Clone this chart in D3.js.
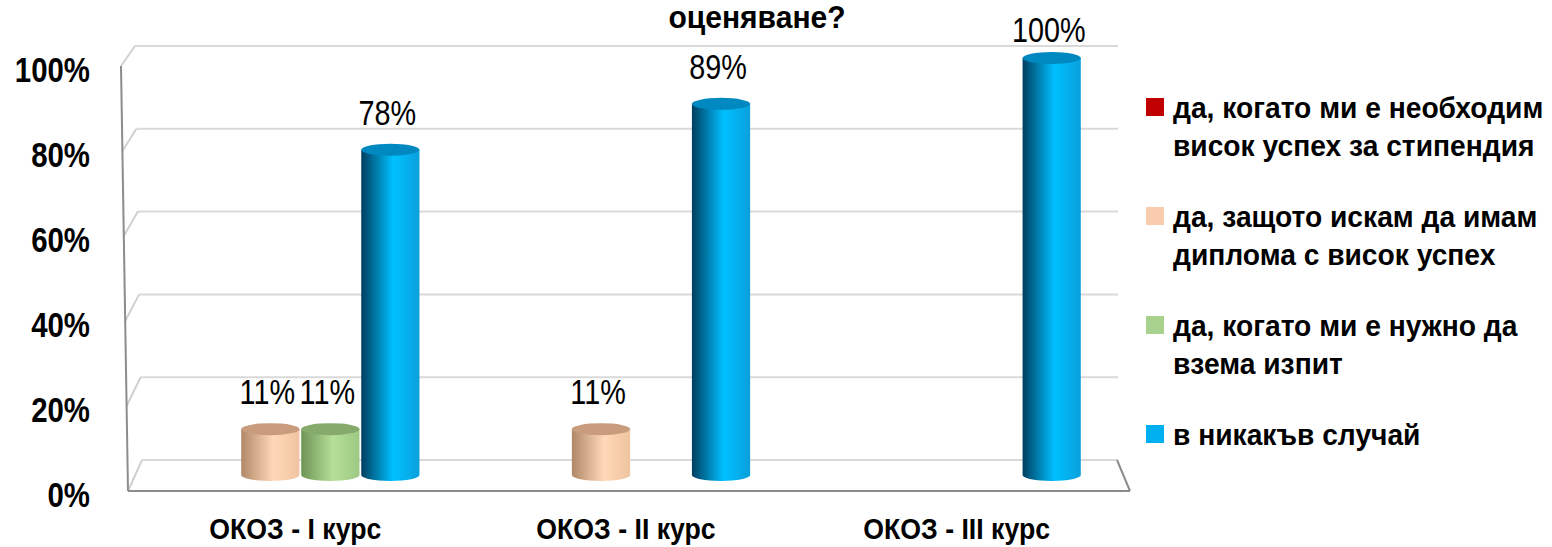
<!DOCTYPE html>
<html>
<head>
<meta charset="utf-8">
<script src="https://cdn.jsdelivr.net/npm/d3@7"></script>
<style>
  body { margin: 0; background: #fff; }
  svg text { font-family: "Liberation Sans", Arial, sans-serif; }
</style>
</head>
<body>
<div id="chart"></div>
<script>
var categories = ["ОКОЗ - I курс", "ОКОЗ - II курс", "ОКОЗ - III курс"];
var seriesNames = [
  "да, когато ми е необходим висок успех за стипендия",
  "да, защото искам да имам диплома с висок успех",
  "да, когато ми е нужно да взема изпит",
  "в никакъв случай"
];
var legendLines = [
  ["да, когато ми е необходим", "висок успех за стипендия"],
  ["да, защото искам да имам", "диплома с висок успех"],
  ["да, когато ми е нужно да", "взема изпит"],
  ["в никакъв случай"]
];
var stipendValues = [0, 0, 0];
var diplomaValues = [0.11, 0.11, 0];
var examValues = [0.11, 0, 0];
var neverValues = [0.78, 0.89, 1.00];
var yTicks = [0, 0.2, 0.4, 0.6, 0.8, 1.0];
var seriesColors = ["#c00000", "#f8cbad", "#a9d18e", "#00b0f0"];
// cylinder shading: dark edge, light middle, right edge, top
var shades = [
  ["#700000", "#e02020", "#b00000", "#a00000"],
  ["#b08868", "#ffd8b8", "#f0c4a0", "#c89c7c"],
  ["#6e9454", "#b6e09a", "#9cc882", "#86aa6c"],
  ["#003e60", "#00c0ff", "#0aa0dc", "#0088c0"]
];
var allValues = [stipendValues, diplomaValues, examValues, neverValues];

var width = 1552, height = 547;
var svg = d3.select("#chart").append("svg")
  .attr("width", width).attr("height", height);

// narrow font look: squeeze text horizontally
function place(x, y, sx) {
  return "translate(" + x + "," + y + ") scale(" + sx + ",1)";
}

var defs = svg.append("defs");
shades.forEach(function (s, i) {
  var g = defs.append("linearGradient").attr("id", "cyl" + i)
    .attr("x1", 0).attr("x2", 1).attr("y1", 0).attr("y2", 0);
  g.append("stop").attr("offset", "0%").attr("stop-color", s[0]);
  g.append("stop").attr("offset", "55%").attr("stop-color", s[1]);
  g.append("stop").attr("offset", "100%").attr("stop-color", s[2]);
});

// scales: back wall, front edge, and mid depth (where the cylinders stand)
var yBack = d3.scaleLinear().domain([0, 1]).range([460, 46]);
var yFront = d3.scaleLinear().domain([0, 1]).range([491, 66]);
var yMid = d3.scaleLinear().domain([0, 1]).range([475, 58]);
var xBackLeft = d3.scaleLinear().domain([0, 1]).range([142, 135]);
var xFrontLeft = d3.scaleLinear().domain([0, 1]).range([128, 121]);

var x0 = d3.scaleBand().domain(categories).range([135, 1127]);
var x1 = d3.scaleBand().domain(seriesNames)
  .range([x0.bandwidth() * 0.137, x0.bandwidth() * 0.863]);

// back gridlines + connectors to front axis
yTicks.forEach(function (t) {
  svg.append("line")
    .attr("x1", xBackLeft(t)).attr("x2", 1118)
    .attr("y1", yBack(t)).attr("y2", yBack(t))
    .attr("stroke", "#d9d9d9").attr("stroke-width", 2);
  svg.append("line")
    .attr("x1", xFrontLeft(t)).attr("y1", yFront(t))
    .attr("x2", xBackLeft(t)).attr("y2", yBack(t))
    .attr("stroke", "#d0d0d0").attr("stroke-width", 2);
});

// floor: right side and front edge
svg.append("line")
  .attr("x1", 1117).attr("y1", yBack(0)).attr("x2", 1130).attr("y2", yFront(0))
  .attr("stroke", "#8c8c8c").attr("stroke-width", 2);
svg.append("line")
  .attr("x1", xFrontLeft(0)).attr("y1", yFront(0)).attr("x2", 1130).attr("y2", yFront(0))
  .attr("stroke", "#8c8c8c").attr("stroke-width", 2);
// front vertical axis
svg.append("line")
  .attr("x1", xFrontLeft(1)).attr("y1", yFront(1))
  .attr("x2", xFrontLeft(0)).attr("y2", yFront(0))
  .attr("stroke", "#8c8c8c").attr("stroke-width", 2);

// y tick labels
svg.selectAll(".ytick").data(yTicks).enter().append("text")
  .attr("transform", function (d) { return place(90, yFront(d) + 3, 0.84); })
  .attr("dy", "0.36em")
  .attr("text-anchor", "end")
  .style("font-size", "35px").style("font-weight", "bold")
  .text(function (d) { return Math.round(d * 100) + "%"; });

// category labels
svg.selectAll(".xlab").data(categories).enter().append("text")
  .attr("transform", function (d) { return place(x0(d) + x0.bandwidth() / 2 - 5, 539, 0.92); })
  .attr("text-anchor", "middle")
  .style("font-size", "29px").style("font-weight", "bold")
  .text(function (d) { return d; });

// cylinders
var ry = 6;
var bars = [];
seriesNames.forEach(function (s, si) {
  categories.forEach(function (c, ci) {
    var v = allValues[si][ci];
    if (v > 0) bars.push({ s: s, si: si, c: c, v: v });
  });
});
function cx(d) { return x0(d.c) + x1(d.s) + x1.bandwidth() / 2; }

var cyl = svg.selectAll(".cyl").data(bars).enter().append("g");
cyl.append("path")
  .attr("d", function (d) {
    var rx = x1.bandwidth() * 0.485;
    var yb = yMid(0), yt = yMid(d.v);
    return "M" + (cx(d) - rx) + "," + yt +
      "L" + (cx(d) - rx) + "," + yb +
      "A" + rx + "," + ry + " 0 0 0 " + (cx(d) + rx) + "," + yb +
      "L" + (cx(d) + rx) + "," + yt + "Z";
  })
  .attr("fill", function (d) { return "url(#cyl" + d.si + ")"; });
cyl.append("ellipse")
  .attr("cx", cx)
  .attr("cy", function (d) { return yMid(d.v); })
  .attr("rx", x1.bandwidth() * 0.485)
  .attr("ry", ry)
  .attr("fill", function (d) { return shades[d.si][3]; });

// value labels
svg.selectAll(".vlab").data(bars).enter().append("text")
  .attr("transform", function (d) { return place(cx(d) - 3, Math.max(42, yMid(d.v) - 25), 0.8); })
  .attr("text-anchor", "middle")
  .style("font-size", "36px")
  .text(function (d) { return Math.round(d.v * 100) + "%"; });

// title (last visible line)
svg.append("text")
  .attr("transform", place(757, 28, 0.97))
  .attr("text-anchor", "middle")
  .style("font-size", "31px").style("font-weight", "bold")
  .text("оценяване?");

// legend
var legendY = [107, 216, 325, 434];
var legend = svg.selectAll(".leg").data(seriesNames).enter().append("g")
  .attr("transform", function (d, i) { return "translate(1146," + legendY[i] + ")"; });
legend.append("rect")
  .attr("x", 0).attr("y", -9).attr("width", 18).attr("height", 18)
  .attr("fill", function (d, i) { return seriesColors[i]; });
legend.each(function (d, i) {
  var t = d3.select(this).append("text")
    .attr("transform", place(27, 11, 0.94))
    .style("font-size", "30px").style("font-weight", "bold");
  legendLines[i].forEach(function (line, li) {
    t.append("tspan").attr("x", 0).attr("dy", li === 0 ? 0 : 38).text(line);
  });
});
</script>
</body>
</html>
